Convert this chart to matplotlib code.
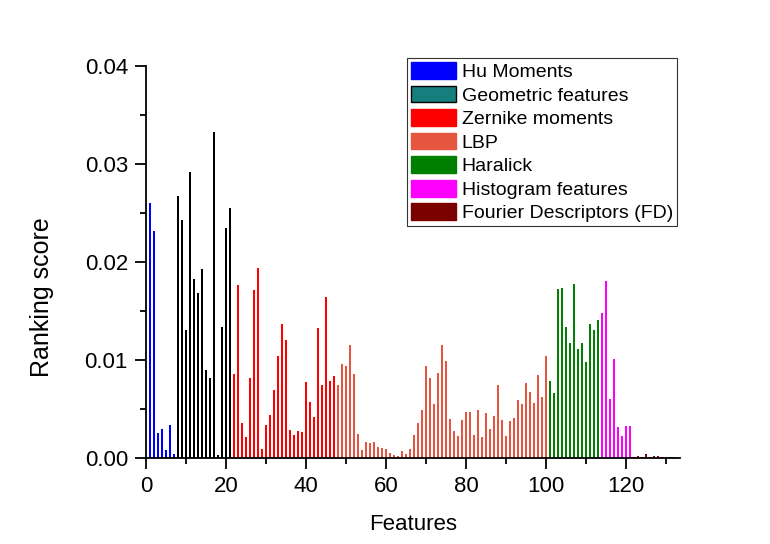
import matplotlib
matplotlib.use('Agg')
import matplotlib.pyplot as plt
from matplotlib.patches import Patch
from matplotlib.ticker import MultipleLocator, FormatStrFormatter
import numpy as np

plt.rcParams['font.family'] = ['Liberation Sans', 'DejaVu Sans']

# ranking score per feature group (features numbered 1..132)
hu = [0.0260, 0.0232, 0.0026, 0.0030, 0.0008, 0.0034, 0.0004]
geometric = [0.0267, 0.0243, 0.0131, 0.0292, 0.0183, 0.0168, 0.0193, 0.0090,
             0.0082, 0.0333, 0.0003, 0.0134, 0.0235, 0.0255]
zernike = [0.0086, 0.0177, 0.0036, 0.0021, 0.0082, 0.0171, 0.0194, 0.0009,
           0.0034, 0.0044, 0.0069, 0.0104, 0.0137, 0.0120, 0.0029, 0.0024,
           0.0028, 0.0027, 0.0078, 0.0057, 0.0042, 0.0133, 0.0075, 0.0164,
           0.0079, 0.0084]
lbp = [0.0075, 0.0096, 0.0094, 0.0115, 0.0086, 0.0025, 0.0008, 0.0016,
       0.0015, 0.0016, 0.0011, 0.0010, 0.0009, 0.0005, 0.0003, 0.0002,
       0.0007, 0.0004, 0.0009, 0.0024, 0.0036, 0.0049, 0.0094, 0.0082,
       0.0055, 0.0087, 0.0115, 0.0099, 0.0040, 0.0028, 0.0023, 0.0039,
       0.0047, 0.0047, 0.0024, 0.0049, 0.0021, 0.0046, 0.0030, 0.0043,
       0.0075, 0.0039, 0.0023, 0.0038, 0.0041, 0.0059, 0.0055, 0.0077,
       0.0067, 0.0056, 0.0085, 0.0062, 0.0104]
haralick = [0.0079, 0.0066, 0.0173, 0.0174, 0.0134, 0.0117, 0.0178, 0.0111,
            0.0117, 0.0098, 0.0137, 0.0131, 0.0141]
histogram = [0.0148, 0.0181, 0.0060, 0.0101, 0.0032, 0.0022, 0.0033, 0.0033]
fourier = [0.00015, 0.00025, 0.00015, 0.00045, 0.00015, 0.0002, 0.0002,
           0.00015, 0.0001, 0.0001, 0.0001]

groups = [hu, geometric, zernike, lbp, haralick, histogram, fourier]
names = ['Hu Moments', 'Geometric features', 'Zernike moments', 'LBP',
         'Haralick', 'Histogram features', 'Fourier Descriptors (FD)']
bar_colors = ['#0000ff', '#000000', '#ff0000', '#e5553f', '#008000', '#ff00ff', '#7b0000']
legend_colors = ['#0000ff', '#177e7e', '#ff0000', '#e5553f', '#008000', '#ff00ff', '#7b0000']

fig = plt.figure(figsize=(7.7, 5.44), dpi=100)
ax = fig.add_axes([0.1896, 0.158, 0.6935, 0.7206])

start = 1
for vals, col in zip(groups, bar_colors):
    x = np.arange(start, start + len(vals))
    ax.bar(x, vals, width=0.45, color=col, linewidth=0)
    start += len(vals)

ax.set_xlim(0, 133.5)
ax.set_ylim(0, 0.04)
ax.xaxis.set_major_locator(MultipleLocator(20))
ax.xaxis.set_minor_locator(MultipleLocator(10))
ax.yaxis.set_major_locator(MultipleLocator(0.01))
ax.yaxis.set_minor_locator(MultipleLocator(0.005))
ax.yaxis.set_major_formatter(FormatStrFormatter('%.2f'))

for s in ['top', 'right']:
    ax.spines[s].set_visible(False)
for s in ['left', 'bottom']:
    ax.spines[s].set_linewidth(1.3)

ax.tick_params(which='major', length=8, width=1.3, labelsize=16, pad=5)
ax.tick_params(which='minor', length=4, width=1.3)

ax.set_xlabel('Features', fontsize=16, labelpad=12)
ax.set_ylabel('Ranking score', fontsize=18)
ax.yaxis.set_label_coords(-0.172, 0.41)

handles = []
for i, (n, c) in enumerate(zip(names, legend_colors)):
    ec = 'black' if i == 1 else c
    handles.append(Patch(facecolor=c, edgecolor=ec, linewidth=1.0, label=n))
leg = fig.legend(handles=handles, loc='upper right', bbox_to_anchor=(0.879, 0.893),
                 fontsize=14, frameon=True, fancybox=False, edgecolor='black',
                 handlelength=2.3, handleheight=0.95, handletextpad=0.3,
                 labelspacing=0.23, borderpad=0.2, borderaxespad=0)
leg.get_frame().set_linewidth(0.8)

fig.savefig('out.png', dpi=100)
